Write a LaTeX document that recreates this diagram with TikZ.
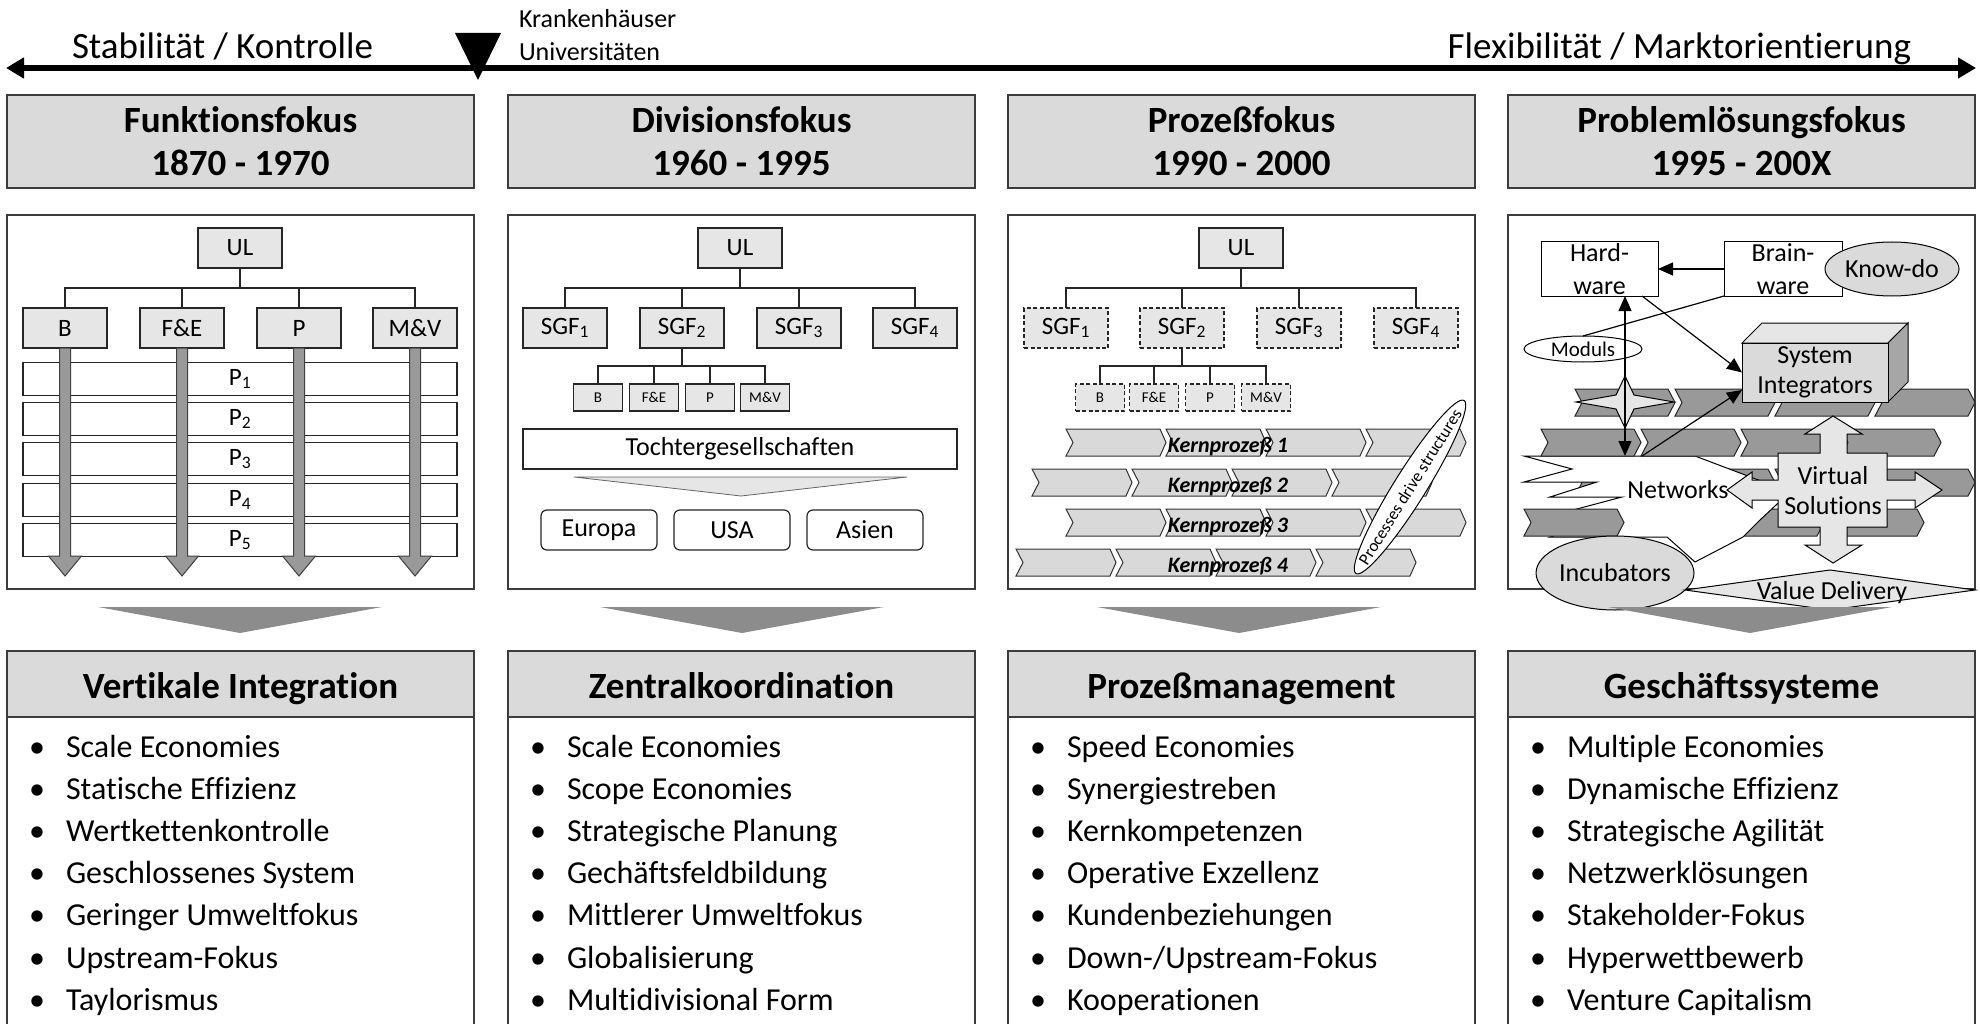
\documentclass[tikz,border=0pt]{standalone}
\usepackage{fontspec}
\setmainfont{Carlito}[Ligatures=NoCommon]
\usetikzlibrary{arrows.meta,calc,shapes.geometric}
\definecolor{hdrfill}{HTML}{DADADA}
\definecolor{boxfill}{HTML}{E6E6E6}
\definecolor{chevlight}{HTML}{D9D9D9}
\definecolor{chevdark}{HTML}{999999}
\definecolor{wedgegray}{HTML}{8C8C8C}
\definecolor{framegray}{HTML}{3C3C3C}
\newcommand\fAxis{\fontsize{37}{44}\selectfont}
\newcommand\fHead{\fontsize{37}{44}\selectfont\bfseries}
\newcommand\fBul{\fontsize{32}{38}\selectfont}
\newcommand\fOrg{\fontsize{25}{30}\selectfont}
\newcommand\fMini{\fontsize{15}{18}\selectfont}
\newcommand\fNote{\fontsize{26}{33}\selectfont}
\newcommand\fBox{\fontsize{26}{30}\selectfont}
\newcommand\fKern{\fontsize{22}{26}\selectfont\bfseries\itshape}
\newcommand\fPds{\fontsize{17}{20}\selectfont}
\newcommand\fMod{\fontsize{21}{25}\selectfont}
\begin{document}
\begin{tikzpicture}[x=1pt,y=-1pt,
  every node/.style={inner sep=0pt,outer sep=0pt},
  frame/.style={draw=framegray,line width=1.3pt},
  hdr/.style={frame,fill=hdrfill,minimum width=467pt},
  panel/.style={frame,fill=white,minimum width=467pt,minimum height=374pt},
  orgbox/.style={draw=black!85,line width=1.2pt,fill=boxfill,minimum width=84pt,minimum height=40pt,font=\fOrg},
  minibox/.style={draw=black!85,line width=1.2pt,fill=boxfill,minimum width=49pt,minimum height=27pt,font=\fMini},
  dashbox/.style={dash pattern=on 4pt off 2.5pt},
  tree/.style={draw=black!85,line width=1.2pt},
  rowbox/.style={draw=black!85,line width=1.2pt,fill=white,minimum width=434pt,minimum height=33pt,font=\fOrg},
  region/.style={draw=black!85,line width=1.2pt,fill=white,rounded corners=6pt,minimum width=116pt,minimum height=40pt,font=\fNote},
  grayarr/.style={draw=black!75,line width=1pt,fill=chevdark},
  chevL/.style={draw=black!80,line width=1pt,fill=chevlight},
  chevD/.style={draw=black!85,line width=1pt,fill=chevdark},
  wedge/.style={fill=wedgegray},
  conn/.style={draw=black,line width=1.2pt},
  tip/.style={-{Triangle[length=15pt,width=13pt]}},
  lightshape/.style={draw=black,line width=1pt,fill=boxfill},
  whiteshape/.style={draw=black,line width=1pt,fill=white}
]
\useasboundingbox (0,0) rectangle (1980,1024);

% ---------- axis ----------
\coordinate (axL) at (6,68);
\coordinate (axR) at (1976,68);
\draw[line width=5.5pt,{Triangle[length=18pt,width=20pt]}-{Triangle[length=18pt,width=20pt]}] (axL) -- (axR);
\coordinate (mark) at (478,33);
\fill ($(mark)+(-23,0)$) -- ($(mark)+(23,0)$) -- ($(mark)+(0,47)$) -- cycle;
\node[font=\fAxis,anchor=base west] (stab) at (72,59) {Stabilität / Kontrolle};
\node[font=\fAxis,anchor=base east] (flex) at (1911,59) {Flexibilität / Marktorientierung};
\node[font=\fNote,anchor=base west] (kh) at (519,28) {Krankenhäuser};
\node[font=\fNote,anchor=base west] (uni) at (519,61) {Universitäten};

% ---------- header boxes ----------
\foreach \c/\xl/\ta/\tb in {1/7/Funktionsfokus/1870 - 1970,2/508/Divisionsfokus/1960 - 1995,3/1008/Prozeßfokus/1990 - 2000,4/1508/Problemlösungsfokus/1995 - 200X}{
  \node[hdr,minimum height=93pt] (hd\c) at ({\xl+233.5},141.5) {};
  \node[font=\fHead,anchor=base] (hda\c) at ({\xl+233.5},133) {\ta};
  \node[font=\fHead,anchor=base] (hdb\c) at ({\xl+233.5},176) {\tb};
}

% ---------- panel 1: functional organisation ----------
\node[panel] (pan1) at (240.5,402) {};
\node[orgbox] (ul1) at (240,248) {UL};
\node[orgbox] (f1b) at (65,328) {B};
\node[orgbox] (f1f) at (182,328) {F\&E};
\node[orgbox] (f1p) at (299,328) {P};
\node[orgbox] (f1m) at (415,328) {M\&V};
\foreach \n in {f1b,f1f,f1p,f1m} \draw[tree] (ul1.south) -- ++(0,20) -| (\n.north);
\foreach \i/\y in {1/379,2/419,3/459,4/500,5/540} \node[rowbox] (row\i) at (240,\y) {P\textsubscript{\i}};
\foreach \n in {f1b,f1f,f1p,f1m}
  \draw[grayarr] ($(\n.south)+(-5.5,0)$) -- ++(0,208) -- ++(-11,0) -- ++(16.5,20) -- ++(16.5,-20) -- ++(-11,0) -- ++(0,-208) -- cycle;

% ---------- panel 2: divisional organisation ----------
\node[panel] (pan2) at (741.5,402) {};
\node[orgbox] (ul2) at (740,248) {UL};
\node[orgbox] (s21) at (565,328) {SGF\textsubscript{1}};
\node[orgbox] (s22) at (682,328) {SGF\textsubscript{2}};
\node[orgbox] (s23) at (799,328) {SGF\textsubscript{3}};
\node[orgbox] (s24) at (915,328) {SGF\textsubscript{4}};
\foreach \n in {s21,s22,s23,s24} \draw[tree] (ul2.south) -- ++(0,20) -| (\n.north);
\node[minibox] (m21) at (598,397.5) {B};
\node[minibox] (m22) at (654,397.5) {F\&E};
\node[minibox] (m23) at (710,397.5) {P};
\node[minibox] (m24) at (765,397.5) {M\&V};
\foreach \n in {m21,m22,m23,m24} \draw[tree] (s22.south) -- ++(0,18) -| (\n.north);
\node[rowbox,minimum height=40pt,font=\fNote] (toch) at (740,449) {Tochtergesellschaften};
\draw[draw=black!60,line width=0.8pt,fill=boxfill] ($(toch.south)+(-166,8)$) -- ($(toch.south)+(167,8)$) -- ($(toch.south)+(1,27)$) -- cycle;
\node[region] (eu) at (599,530) {Europa};
\node[region] (usa) at (732,530) {USA};
\node[region] (asia) at (865,530) {Asien};

% ---------- panel 3: process organisation ----------
\node[panel] (pan3) at (1241.5,402) {};
\node[orgbox] (ul3) at (1241,248) {UL};
\node[orgbox,dashbox] (s31) at (1066,328) {SGF\textsubscript{1}};
\node[orgbox,dashbox] (s32) at (1182,328) {SGF\textsubscript{2}};
\node[orgbox,dashbox] (s33) at (1299,328) {SGF\textsubscript{3}};
\node[orgbox,dashbox] (s34) at (1416,328) {SGF\textsubscript{4}};
\foreach \n in {s31,s32,s33,s34} \draw[tree] (ul3.south) -- ++(0,20) -| (\n.north);
\node[minibox,dashbox] (m31) at (1100,397.5) {B};
\node[minibox,dashbox] (m32) at (1154,397.5) {F\&E};
\node[minibox,dashbox] (m33) at (1210,397.5) {P};
\node[minibox,dashbox] (m34) at (1266,397.5) {M\&V};
\foreach \n in {m31,m32,m33,m34} \draw[tree] (s32.south) -- ++(0,18) -| (\n.north);
\foreach \r/\y/\x in {1/442.5/1066,2/482.5/1032,3/522.5/1066,4/562.5/1016}{
  \foreach \k in {0,...,3}
    \draw[chevL] ({\x+100*\k},{\y-13.5}) -- ++(94,0) -- ++(6,13.5) -- ++(-6,13.5) -- ++(-94,0) -- ++(7,-13.5) -- cycle;
  \node[font=\fKern] (kp\r) at (1228,{\y+4}) {Kernprozeß \r};
}
\node[ellipse,draw=black,line width=1pt,fill=white,minimum width=204pt,minimum height=32pt,rotate=58] (pds) at (1410,487) {};
\node[font=\fPds,rotate=58] (pdst) at (pds.center) {Processes drive structures};

% ---------- panel 4: problem-solving systems ----------
\node[panel] (pan4) at (1741.5,402) {};
% value chains behind the network
\foreach \k in {0,...,3}
  \draw[chevD] ({1575+100*\k},469) -- ++(93,0) -- ++(7,13.5) -- ++(-7,13.5) -- ++(-93,0) -- ++(7,-13.5) -- cycle;
\foreach \k in {1,...,3}
  \draw[chevD] ({1524+100*\k},509) -- ++(93,0) -- ++(7,13.5) -- ++(-7,13.5) -- ++(-93,0) -- ++(7,-13.5) -- cycle;
% the network
\draw[whiteshape] (1524,456) -- (1695,456) -- (1790,492) -- (1760,520) -- (1743,537) -- (1695,562) -- (1667,537)
  -- (1550,537) -- (1590,522) -- (1573,510) -- (1622,497) -- (1550,497) -- (1597,482) -- (1524,482) -- (1572,469) -- cycle;
\draw[chevD] (1524,509) -- ++(93,0) -- ++(7,13.5) -- ++(-7,13.5) -- ++(-93,0) -- ++(7,-13.5) -- cycle;
\foreach \k in {0,...,3}
  \draw[chevD] ({1575+100*\k},389) -- ++(93,0) -- ++(7,13.5) -- ++(-7,13.5) -- ++(-93,0) -- ++(7,-13.5) -- cycle;
\foreach \k in {0,...,3}
  \draw[chevD] ({1541+100*\k},429) -- ++(93,0) -- ++(7,13.5) -- ++(-7,13.5) -- ++(-93,0) -- ++(7,-13.5) -- cycle;
\node[font=\fNote] (netw) at (1678,490) {Networks};
% system integrators block
\draw[draw=black,line width=1pt,fill=boxfill] (1742,343) -- (1762,323) -- (1908,323) -- (1888,343) -- cycle;
\draw[draw=black,line width=1pt,fill=black!35] (1888,343) -- (1908,323) -- (1908,382) -- (1888,402) -- cycle;
\node[draw=black,line width=1pt,fill=hdrfill,minimum width=146pt,minimum height=59pt,align=center,font=\fBox] (sysint) at (1815,372.5) {System\\Integrators};
% star
\coordinate (starc) at (1625,402);
\draw[lightshape,shift={(starc)}] (-49,0) -- (-9,-7) -- (0,-26) -- (9,-7) -- (49,0) -- (9,7) -- (0,26) -- (-9,7) -- cycle;
% virtual solutions cross
\draw[lightshape] (1833,416) -- (1862,434) -- (1847,434) -- (1847,453) -- (1887,453) -- (1887,480) -- (1915,480) -- (1915,472)
  -- (1942,490) -- (1915,508) -- (1915,500) -- (1887,500) -- (1887,527) -- (1847,527) -- (1847,545) -- (1862,545)
  -- (1833,563) -- (1805,545) -- (1820,545) -- (1820,527) -- (1778,527) -- (1778,500) -- (1752,500) -- (1752,508)
  -- (1727,490) -- (1752,472) -- (1752,480) -- (1778,480) -- (1778,453) -- (1820,453) -- (1820,434) -- (1805,434) -- cycle;
\node[font=\fBox,align=center] (virt) at (1833,491) {Virtual\\Solutions};
% incubators and value delivery
\node[ellipse,draw=black,line width=1pt,fill=hdrfill,minimum width=144pt,minimum height=74pt,font=\fNote] (incub) at (1615,573) {Incubators};
\coordinate (vdc) at (1830,590);
\draw[lightshape] ($(vdc)+(-145,0)$) -- ($(vdc)+(0,-20)$) -- ($(vdc)+(145,0)$) -- ($(vdc)+(0,20)$) -- cycle;
\node[font=\fNote] (vd) at (1832,593) {Value Delivery};
% hardware / brainware
\node[whiteshape,minimum width=117pt,minimum height=54pt,align=center,font=\fNote] (hw) at (1599.5,269) {Hard-\\ware};
\node[whiteshape,minimum width=118pt,minimum height=54pt,align=center,font=\fNote] (bw) at (1783,269) {Brain-\\ware};
\node[ellipse,draw=black,line width=1pt,fill=hdrfill,minimum width=134pt,minimum height=54pt,font=\fNote] (kd) at (1892,269) {Know-do};
\node[ellipse,whiteshape,minimum width=118pt,minimum height=26pt,font=\fMod] (mod) at (1583,349) {Moduls};
\coordinate (vbot) at (1625,456);
\coordinate (nbot) at (1642,456);
\draw[conn,tip] (bw.west) -- (hw.east);
\draw[conn] (bw.south west) -- (mod.north);
\draw[conn,{Triangle[length=15pt,width=13pt]}-{Triangle[length=15pt,width=13pt]}] (hw.south -| starc) -- (vbot);
\draw[conn,tip] ($(hw.south east)+(-16,0)$) -- (sysint.west);
\draw[conn,tip] (nbot) -- ($(sysint.south west)+(0,-12)$);

% ---------- transition wedges ----------
\foreach \c/\xc in {1/240,2/742,3/1239,4/1750}
  \fill[wedge] ({\xc-142},607) -- ({\xc+142},607) -- (\xc,633) -- cycle;

% ---------- bottom boxes ----------
\foreach \c/\xl/\t in {1/7/Vertikale Integration,2/508/Zentralkoordination,3/1008/Prozeßmanagement,4/1508/Geschäftssysteme}{
  \draw[frame] (\xl,1026) -- (\xl,717) -- ({\xl+467},717) -- ({\xl+467},1026);
  \node[hdr,minimum height=66pt] (bh\c) at ({\xl+233.5},684) {};
  \node[font=\fHead,anchor=base] (bt\c) at ({\xl+233.5},698) {\t};
}
\foreach \t [count=\i] in {Scale Economies,Statische Effizienz,Wertkettenkontrolle,Geschlossenes System,Geringer Umweltfokus,Upstream-Fokus,Taylorismus}{
  \node[font=\fBul,anchor=base] (ba\i) at (37,{757+42.2*(\i-1)}) {•};
  \node[font=\fBul,anchor=base west] (ta\i) at (66,{757+42.2*(\i-1)}) {\t};
}
\foreach \t [count=\i] in {Scale Economies,Scope Economies,Strategische Planung,Gechäftsfeldbildung,Mittlerer Umweltfokus,Globalisierung,Multidivisional Form}{
  \node[font=\fBul,anchor=base] (bb\i) at (538,{757+42.2*(\i-1)}) {•};
  \node[font=\fBul,anchor=base west] (tb\i) at (567,{757+42.2*(\i-1)}) {\t};
}
\foreach \t [count=\i] in {Speed Economies,Synergiestreben,Kernkompetenzen,Operative Exzellenz,Kundenbeziehungen,{Down-/Upstream-Fokus},Kooperationen}{
  \node[font=\fBul,anchor=base] (bc\i) at (1038,{757+42.2*(\i-1)}) {•};
  \node[font=\fBul,anchor=base west] (tc\i) at (1067,{757+42.2*(\i-1)}) {\t};
}
\foreach \t [count=\i] in {Multiple Economies,Dynamische Effizienz,Strategische Agilität,Netzwerklösungen,Stakeholder-Fokus,Hyperwettbewerb,Venture Capitalism}{
  \node[font=\fBul,anchor=base] (bd\i) at (1538,{757+42.2*(\i-1)}) {•};
  \node[font=\fBul,anchor=base west] (td\i) at (1567,{757+42.2*(\i-1)}) {\t};
}
\end{tikzpicture}
\end{document}
